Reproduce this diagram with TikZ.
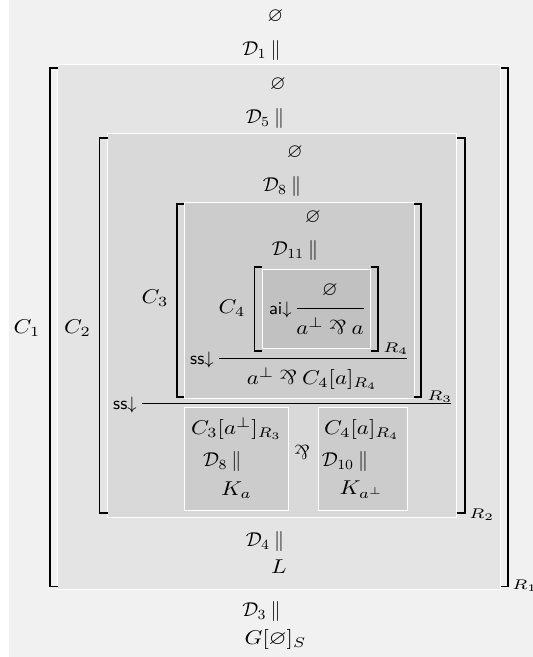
\documentclass[tikz,border=0pt]{standalone}
\usepackage{graphicx}
\usepackage{amssymb}
\newcommand{\mypar}{\mathbin{\rotatebox[origin=c]{180}{$\&$}}}
\newcommand{\mt}[1]{\scalebox{1.14}[1]{$#1$}}
\newcommand{\rt}[1]{\scalebox{1.25}[1]{$\scriptstyle #1$}}
\definecolor{bgc}{gray}{0.945}
\definecolor{lvA}{gray}{0.895}
\definecolor{lvB}{gray}{0.85}
\definecolor{lvC}{gray}{0.80}
\definecolor{lvD}{gray}{0.755}
\begin{document}
\begin{tikzpicture}[x=0.5pt,y=-0.5pt,
  bx/.style={draw=white,line width=0.5pt},
  brk/.style={line width=0.9pt,black,line join=miter},
  rl/.style={line width=0.4pt},
  tx/.style={inner sep=0pt},
  dlab/.style={inner sep=0pt,anchor=base east,xshift=-1.5pt},
  rlab/.style={inner sep=0pt,anchor=west},
  rulelab/.style={inner sep=0pt,anchor=east,font=\small\sffamily}]
\useasboundingbox (0,0) rectangle (533,657);
% background and boxes
\fill[bgc] (8.5,0) rectangle (533,657);
\filldraw[bx,fill=lvA] (57.5,65) rectangle (500.6,589.5);
\filldraw[bx,fill=lvB] (107.5,134) rectangle (456.8,517.7);
\filldraw[bx,fill=lvC] (184.3,202.7) rectangle (414,398);
\filldraw[bx,fill=lvD] (262,269.7) rectangle (370.7,348.3);
\filldraw[bx,fill=lvC] (184.7,407) rectangle (288.8,510.5);
\filldraw[bx,fill=lvC] (318,407) rectangle (407.5,510.5);
% brackets
\draw[brk] (57.5,68) -- (50,68) -- (50,586.5) -- (57.5,586.5);
\draw[brk] (500.6,68) -- (508,68) -- (508,586.5) -- (500.6,586.5);
\draw[brk] (107.5,137.7) -- (99.5,137.7) -- (99.5,513.3) -- (107.5,513.3);
\draw[brk] (456.8,137.7) -- (465,137.7) -- (465,513.3) -- (456.8,513.3);
\draw[brk] (184.3,204) -- (177,204) -- (177,396.6) -- (184.3,396.6);
\draw[brk] (414,204) -- (421,204) -- (421,396.6) -- (414,396.6);
\draw[brk] (262,267.3) -- (254.4,267.3) -- (254.4,350.7) -- (262,350.7);
\draw[brk] (370.7,267.3) -- (377.6,267.3) -- (377.6,350.7) -- (370.7,350.7);
% bracket subscripts
\node[rlab] (r1) at (512,586) {\rt{R_1}};
\node[rlab] (r2) at (469,515) {\rt{R_2}};
\node[rlab] (r3) at (427,396.6) {\rt{R_3}};
\node[rlab] (r4) at (383,349) {\rt{R_4}};
% outer chain
\node[tx] (e0) at (275.5,16.3) {$\varnothing$};
\node[tx] (p1) at (275.5,51) {$\Vert$};
\node[dlab] (d1) at (p1.base west) {$\mathcal{D}_1$};
\node[tx] (e1) at (278,85) {$\varnothing$};
\node[tx] (p5) at (279,119) {$\Vert$};
\node[dlab] (d5) at (p5.base west) {$\mathcal{D}_5$};
\node[tx] (e2) at (295,153) {$\varnothing$};
\node[tx] (p8) at (296,187) {$\Vert$};
\node[dlab] (d8) at (p8.base west) {$\mathcal{D}_8$};
\node[tx] (e3) at (313,217.7) {$\varnothing$};
\node[tx] (p11) at (313,251) {$\Vert$};
\node[dlab] (d11) at (p11.base west) {$\mathcal{D}_{11}$};
% context labels
\node[tx] (c1) at (27,328.6) {\mt{C_1}};
\node[tx] (c2) at (77.5,328.6) {\mt{C_2}};
\node[tx] (c3) at (155,298.6) {\mt{C_3}};
\node[tx] (c4) at (232,308) {\mt{C_4}};
% innermost rule ai
\node[rulelab] (ai) at (292,310) {ai$\downarrow$};
\coordinate (b4l) at (296.6,308.2);
\coordinate (b4r) at (364,308.2);
\draw[rl] (b4l) -- (b4r);
\node[tx] (num4) at (330,290) {$\varnothing$};
\node[tx] (den4) at (330,325.8) {\mt{a^{\perp}\mypar a}};
% rule ss inner
\node[rulelab] (ss3) at (214,360) {ss$\downarrow$};
\coordinate (b3l) at (219.4,358.5);
\coordinate (b3r) at (406.5,358.5);
\draw[rl] (b3l) -- (b3r);
\node[tx] (den3) at (312,378.6) {\mt{a^{\perp}\mypar C_4[a]_{R_4}}};
% rule ss outer
\node[rulelab] (ss2) at (137,404.5) {ss$\downarrow$};
\coordinate (b2l) at (142,403);
\coordinate (b2r) at (450.7,403);
\draw[rl] (b2l) -- (b2r);
% bottom boxes
\node[tx] (k1t) at (236.4,429) {\mt{C_3[a^{\perp}]_{R_3}}};
\node[tx] (k1p) at (236.4,461) {$\Vert$};
\node[dlab] (k1d) at (k1p.base west) {$\mathcal{D}_8$};
\node[tx] (k1b) at (236.4,490) {\mt{K_a}};
\node[tx] (pr) at (302,452.7) {$\mypar$};
\node[tx] (k2t) at (361.6,429) {\mt{C_4[a]_{R_4}}};
\node[tx] (k2p) at (363,461) {$\Vert$};
\node[dlab] (k2d) at (k2p.base west) {$\mathcal{D}_{10}$};
\node[tx] (k2b) at (361.6,490) {\mt{K_{a^{\perp}}}};
% lower chain
\node[tx] (p4) at (279,541) {$\Vert$};
\node[dlab] (d4) at (p4.base west) {$\mathcal{D}_4$};
\node[tx] (ll) at (279,566.7) {\mt{L}};
\node[tx] (p3) at (275.5,611) {$\Vert$};
\node[dlab] (d3) at (p3.base west) {$\mathcal{D}_3$};
\node[tx] (gg) at (275.5,639.8) {\mt{G[\varnothing]_S}};
\end{tikzpicture}
\end{document}
